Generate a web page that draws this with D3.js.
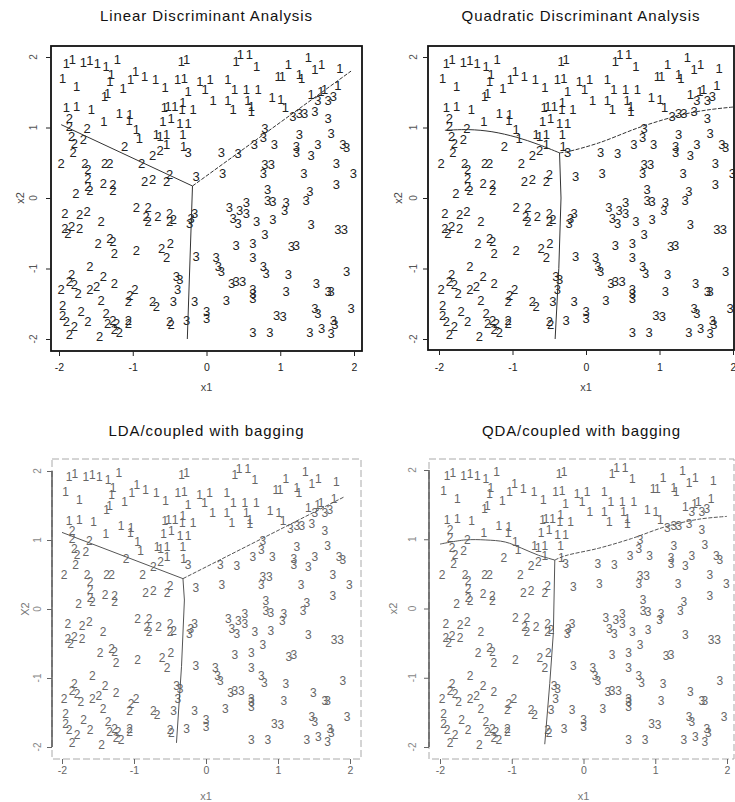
<!DOCTYPE html>
<html>
<head>
<meta charset="utf-8">
<script src="https://cdn.jsdelivr.net/npm/d3@7"></script>
<style>
  body { margin: 0; background: #fff; }
  text { font-family: "Liberation Sans", Arial, sans-serif; }
</style>
</head>
<body>
<svg id="chart" width="735" height="802"></svg>
<script>
// points, [x1, x2]; same sample in all four panels
const class1 = [
  [-1.90,1.91],[-1.82,1.96],[-1.67,1.92],[-1.58,1.95],[-1.48,1.91],[-1.36,1.87],[-1.21,1.97],
  [-0.34,1.94],[-0.27,1.97],[0.40,1.94],[0.46,2.03],[0.58,2.03],[0.68,1.87],[1.11,1.89],
  [1.38,1.99],[1.56,1.89],[1.47,1.82],[1.81,1.84],[-1.95,1.70],[-1.76,1.58],[-1.29,1.75],
  [-1.31,1.65],[-1.13,1.56],[-1.03,1.68],[-0.96,1.80],[-0.84,1.73],[-0.69,1.68],[-0.56,1.57],
  [-0.39,1.68],[-0.30,1.70],[-0.25,1.51],[-0.09,1.65],[-0.02,1.54],[0.05,1.68],[0.09,1.39],
  [0.29,1.68],[0.29,1.39],[0.38,1.54],[0.54,1.54],[0.70,1.54],[0.56,1.39],[0.97,1.73],
  [1.03,1.73],[1.26,1.75],[1.29,1.69],[-1.38,1.44],[-1.34,1.49],[0.89,1.42],[1.01,1.40],
  [1.42,1.47],[1.55,1.51],[1.60,1.54],[1.78,1.59],[-1.90,1.28],[-1.76,1.30],[-1.56,1.26],
  [-1.39,1.09],[-1.18,1.20],[-1.04,1.18],[-1.05,1.10],[-0.57,1.28],[-0.52,1.30],[-0.43,1.30],
  [-0.32,1.35],[-0.33,1.25],[-0.18,1.25],[0.36,1.25],[0.61,1.30],[0.61,1.23],[1.07,1.28],
  [-0.95,0.97],[-0.91,0.85],[-0.48,1.13],[-0.59,1.09],[-0.36,1.06],[-0.25,1.06],[-0.68,0.90],
  [-0.63,0.87],[-0.54,0.90],[-0.32,0.90],[-0.54,0.76],[-0.31,0.73]
];
const class2 = [
  [-1.86,1.13],[-1.86,1.02],[-1.62,0.99],[-1.83,0.87],[-1.67,0.83],[-1.79,0.78],[-1.81,0.64],
  [-1.97,0.49],[-1.65,0.49],[-1.61,0.40],[-1.61,0.28],[-1.61,0.16],[-1.58,0.11],[-1.38,0.49],
  [-1.31,0.49],[-1.40,0.21],[-1.27,0.19],[-1.27,0.11],[-1.77,0.07],[-1.11,0.73],[-0.73,0.61],
  [-0.63,0.68],[-0.88,0.49],[-0.84,0.23],[-0.73,0.26],[-0.54,0.23],[-0.50,0.33],[-1.92,-0.22],
  [-1.72,-0.24],[-1.62,-0.19],[-1.92,-0.43],[-1.83,-0.40],[-1.72,-0.43],[-1.88,-0.50],
  [-1.43,-0.33],[-1.31,-0.57],[-1.27,-0.62],[-1.47,-0.64],[-1.25,-0.78],[-0.95,-0.74],
  [-0.61,-0.71],[-0.49,-0.64],[-0.54,-0.85],[-0.95,-0.14],[-0.79,-0.14],[-0.79,-0.33],
  [-0.66,-0.26],[-0.50,-0.22],[-0.50,-0.33],[-0.45,-0.31],[-0.82,-0.26],[-1.83,-1.09],
  [-1.86,-1.19],[-1.79,-1.23],[-1.74,-1.35],[-1.97,-1.30],[-1.58,-0.97],[-1.40,-1.11],
  [-1.58,-1.30],[-1.49,-1.26],[-1.25,-1.21],[-1.43,-1.45],[-1.04,-1.38],[-0.97,-1.30],
  [-1.06,-1.47],[-0.73,-1.47],[-0.68,-1.54],[-1.95,-1.52],[-1.95,-1.66],[-1.90,-1.75],
  [-1.70,-1.61],[-1.61,-1.75],[-1.86,-1.94],[-1.79,-1.82],[-1.36,-1.64],[-1.34,-1.78],
  [-1.27,-1.73],[-1.22,-1.78],[-1.25,-1.87],[-1.18,-1.90],[-1.45,-1.97],[-1.06,-1.73],
  [-1.06,-1.78],[-0.50,-1.75],[-0.48,-1.80]
];
const class3 = [
  [-0.25,0.64],[-0.14,0.31],[0.20,0.64],[0.22,0.35],[0.43,0.63],[0.65,0.76],[0.77,0.86],
  [0.79,0.99],[0.92,0.76],[0.79,0.47],[0.88,0.47],[0.77,0.35],[1.26,0.90],[1.22,0.73],
  [1.22,0.64],[1.42,0.61],[1.51,0.76],[1.17,1.16],[1.26,1.20],[1.33,1.20],[1.47,1.23],
  [1.51,1.39],[1.65,1.39],[1.65,1.13],[1.72,1.44],[1.69,0.92],[1.85,0.76],[1.90,0.71],
  [1.76,0.49],[1.99,0.35],[1.76,0.19],[1.32,0.35],[1.40,0.09],[1.35,-0.03],[0.83,0.12],
  [0.83,-0.03],[0.90,-0.05],[1.08,-0.07],[1.06,-0.17],[0.31,-0.14],[0.45,-0.17],[0.36,-0.29],
  [0.43,-0.36],[0.54,-0.07],[0.54,-0.22],[0.68,-0.33],[0.90,-0.31],[0.79,-0.52],[1.42,-0.38],
  [1.78,-0.45],[1.87,-0.45],[1.15,-0.69],[1.22,-0.67],[0.40,-0.67],[0.63,-0.64],[0.13,-0.85],
  [0.16,-0.97],[0.20,-1.04],[0.63,-0.85],[0.77,-0.97],[0.81,-1.07],[1.11,-1.09],[0.34,-1.21],
  [0.40,-1.19],[0.49,-1.19],[0.63,-1.30],[0.63,-1.35],[1.08,-1.33],[1.49,-1.21],[1.65,-1.33],
  [1.69,-1.33],[1.90,-1.04],[0.27,-1.45],[0.63,-1.42],[-0.45,-1.47],[-0.39,-1.30],[-0.41,-1.11],
  [-0.36,-1.16],[-0.16,-1.47],[0.00,-1.61],[0.00,-1.71],[-0.27,-1.73],[-0.14,-0.83],
  [-0.16,-0.22],[-0.23,-0.36],[-0.21,-0.29],[0.95,-1.66],[1.04,-1.68],[1.47,-1.56],
  [1.51,-1.64],[1.96,-1.56],[0.63,-1.90],[0.86,-1.90],[1.40,-1.90],[1.56,-1.85],[1.72,-1.73],
  [1.74,-1.80],[1.69,-1.92]
];

// decision boundaries: left branch, right branch, lower branch, each starting at the junction
const ldaLeft = [[-0.19,0.17],[-1.97,1.04]];
const ldaRight = [[-0.19,0.17],[1.96,1.80]];
const ldaDown = [[-0.19,0.17],[-0.26,-2.0]];

const qdaLeft = [[-0.36,0.64],[-0.65,0.76],[-0.94,0.86],[-1.28,0.94],[-1.60,0.97],[-1.92,0.96]];
const qdaRight = [[-0.36,0.64],[-0.24,0.66],[0.17,0.78],[0.75,1.01],[1.30,1.18],[1.66,1.25],[2.0,1.29]];
const qdaDown = [[-0.36,0.64],[-0.34,0.0],[-0.37,-1.0],[-0.42,-2.0]];

const ldaBagLeft = [[-0.32,0.44],[-2.0,1.11]];
const ldaBagRight = [[-0.32,0.44],[1.91,1.62]];
const ldaBagDown = [[-0.32,0.44],[-0.30,0.13],[-0.34,-0.83],[-0.41,-1.94]];

const qdaBagLeft = [[-0.40,0.70],[-0.63,0.77],[-0.86,0.87],[-1.09,0.96],[-1.37,0.99],[-1.65,0.99],[-2.0,0.93]];
const qdaBagRight = [[-0.40,0.70],[-0.26,0.76],[0.21,0.87],[0.67,1.01],[1.14,1.18],[1.61,1.29],[2.0,1.33]];
const qdaBagDown = [[-0.40,0.70],[-0.42,-0.35],[-0.47,-1.08],[-0.54,-1.96]];

const titles = ["Linear Discriminant Analysis", "Quadratic Discriminant Analysis",
                "LDA/coupled with bagging", "QDA/coupled with bagging"];
const tickValues = [-2, -1, 0, 1, 2];
const tickLabels = ["-2", "-1", "0", "1", "2"];

const svg = d3.select("#chart");
svg.append("rect").attr("width", 735).attr("height", 802).attr("fill", "#fff");

const panels = [
  { title: titles[0], xr: [59, 354], yr: [339, 57], box: [51, 46, 362, 351], lines: [ldaLeft, ldaRight, ldaDown],
    ytx: 33, ylx: 20, txy: 371, xly: 391, ty: 21, faded: false, ylab: "x2" },
  { title: titles[1], xr: [439, 733], yr: [339, 57], box: [428, 46, 734, 350], lines: [qdaLeft, qdaRight, qdaDown],
    ytx: 413, ylx: 398, txy: 371, xly: 391, ty: 21, faded: false, ylab: "x2" },
  { title: titles[2], xr: [62, 350], yr: [747, 471], box: [52, 459, 361, 759], lines: [ldaBagLeft, ldaBagRight, ldaBagDown],
    ytx: 37, ylx: 25, txy: 774, xly: 800, ty: 436, faded: true, ylab: "X2" },
  { title: titles[3], xr: [440, 727], yr: [747, 470], box: [429, 459, 734, 759], lines: [qdaBagLeft, qdaBagRight, qdaBagDown],
    ytx: 412, ylx: 393, txy: 774, xly: 800, ty: 436, faded: true, ylab: "x2" }
];

const groups = [
  { label: "1", pts: class1 },
  { label: "2", pts: class2 },
  { label: "3", pts: class3 }
];

panels.forEach(p => {
  const x = d3.scaleLinear().domain([-2, 2]).range(p.xr);
  const y = d3.scaleLinear().domain([-2, 2]).range(p.yr);
  const g = svg.append("g");
  const ink = p.faded ? "#666" : "#222";
  const [bx0, by0, bx1, by1] = p.box;

  // frame
  g.append("rect")
    .attr("x", bx0).attr("y", by0).attr("width", bx1 - bx0).attr("height", by1 - by0)
    .attr("fill", "none")
    .attr("stroke", p.faded ? "#aaa" : "#111")
    .attr("stroke-width", p.faded ? 1 : 1.8)
    .attr("stroke-dasharray", p.faded ? "7,3" : null);
  if (p.faded) {
    g.append("line").attr("x1", bx0).attr("x2", bx0).attr("y1", y(2)).attr("y2", y(-2))
      .attr("stroke", "#333").attr("stroke-width", 1.2);
  }

  // axes
  const xAxis = d3.axisBottom(x).tickValues(tickValues).tickFormat((d, i) => tickLabels[i]).tickSize(5).tickPadding(6);
  const xg = g.append("g").attr("transform", `translate(0,${by1})`).call(xAxis);
  xg.select(".domain").remove();
  xg.selectAll("line").attr("stroke", ink);
  xg.selectAll("text").attr("font-size", 10.5).attr("fill", ink)
    .attr("font-family", "Liberation Sans, Arial, sans-serif")
    .attr("y", p.txy - by1).attr("dy", 0);

  const yAxis = d3.axisLeft(y).tickValues(tickValues).tickFormat((d, i) => tickLabels[i]).tickSize(5);
  const yg = g.append("g").attr("transform", `translate(${bx0},0)`).call(yAxis);
  yg.select(".domain").remove();
  yg.selectAll("line").attr("stroke", ink);
  yg.selectAll("text").remove();
  g.selectAll(".ytick")
    .data(tickValues)
    .join("text")
    .attr("transform", (d, i) => `translate(${p.ytx},${y(d)}) rotate(-90)`)
    .attr("text-anchor", "middle")
    .attr("dy", "0.35em")
    .attr("font-size", 10)
    .attr("fill", p.faded ? "#888" : "#555")
    .text((d, i) => tickLabels[i]);

  // labels
  g.append("text").attr("x", x(0)).attr("y", p.xly).attr("text-anchor", "middle")
    .attr("font-size", 11).attr("fill", p.faded ? "#777" : "#444").text("x1");
  g.append("text").attr("transform", `translate(${p.ylx},${y(0)}) rotate(-90)`)
    .attr("text-anchor", "middle").attr("dy", "0.35em")
    .attr("font-size", 11).attr("fill", p.faded ? "#777" : "#444").text(p.ylab);
  g.append("text").attr("x", (bx0 + bx1) / 2).attr("y", p.ty).attr("text-anchor", "middle")
    .attr("font-size", 15).attr("letter-spacing", 0.9).attr("fill", "#111").text(p.title);

  // class digits
  groups.forEach(grp => {
    g.append("g").selectAll("text")
      .data(grp.pts)
      .join("text")
      .attr("x", d => x(d[0]))
      .attr("y", d => y(d[1]))
      .attr("text-anchor", "middle")
      .attr("dy", "0.35em")
      .attr("font-size", p.faded ? 12 : 13)
      .attr("fill", ink)
      .text(grp.label);
  });

  // boundaries
  p.lines.forEach((pts, i) => {
    g.append("path")
      .attr("d", d3.line().x(d => x(d[0])).y(d => y(d[1])).curve(i === 2 ? d3.curveLinear : d3.curveCatmullRom)(pts))
      .attr("fill", "none")
      .attr("stroke", p.faded ? "#555" : "#333")
      .attr("stroke-width", 1)
      .attr("stroke-dasharray", i === 1 ? "4,1.5" : null);
  });
});
</script>
</body>
</html>
